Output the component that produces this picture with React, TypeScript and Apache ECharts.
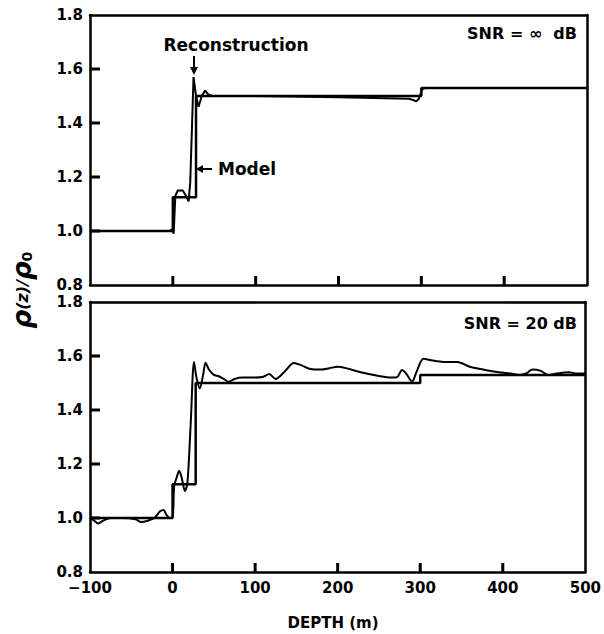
import React, { useEffect, useRef } from "react";
import * as echarts from "echarts";

// Model density profile (same in both panels)
const modelDepth = [-100, 0, 0, 28, 28, 300, 300, 500];
const modelRho = [1.0, 1.0, 1.125, 1.125, 1.5, 1.5, 1.53, 1.53];

// Reconstruction, SNR = infinity
const recInfDepth = [-100, -10, -4, -1, 1, 3, 6, 12, 16, 19, 21, 25, 28, 31, 35, 39, 43, 48, 100, 200, 285, 290, 294, 297, 301, 305, 500];
const recInfRho = [1.0, 1.0, 1.0, 1.006, 0.99, 1.13, 1.15, 1.15, 1.13, 1.11, 1.18, 1.57, 1.5, 1.46, 1.5, 1.52, 1.505, 1.5, 1.5, 1.495, 1.49, 1.485, 1.48, 1.49, 1.525, 1.53, 1.53];

// Reconstruction, SNR = 20 dB
const rec20Depth = [-100, -95, -90, -84, -75, -60, -45, -38, -30, -22, -15, -11, -7, -3, 0, 2, 5, 8, 11, 15, 18, 22, 26, 29, 33, 37, 40, 44, 50, 56, 62, 68, 75, 85, 100, 110, 117, 125, 135, 147, 155, 167, 180, 190, 200, 210, 228, 250, 265, 272, 278, 283, 290, 296, 304, 315, 328, 345, 360, 376, 395, 410, 420, 428, 436, 446, 455, 465, 480, 490, 500];
const rec20Rho = [1.0, 0.99, 0.98, 0.99, 1.0, 1.0, 0.995, 0.985, 0.99, 1.0, 1.025, 1.03, 1.01, 1.0, 1.0, 1.12, 1.15, 1.175, 1.15, 1.1, 1.13, 1.35, 1.578, 1.52, 1.48, 1.53, 1.575, 1.55, 1.53, 1.525, 1.515, 1.505, 1.515, 1.52, 1.52, 1.523, 1.533, 1.515, 1.54, 1.574, 1.567, 1.552, 1.55, 1.555, 1.56, 1.555, 1.54, 1.526, 1.52, 1.522, 1.548, 1.535, 1.505, 1.545, 1.59, 1.583, 1.578, 1.578, 1.56, 1.55, 1.54, 1.535, 1.53, 1.535, 1.55, 1.545, 1.53, 1.535, 1.54, 1.535, 1.535];

// Inner tick positions
const xTicks = [0, 100, 200, 300, 400];
const yTicks = [1.0, 1.2, 1.4, 1.6];

const X_MIN = -100, X_MAX = 500, X_STEP = 100;
const Y_MIN = 0.8, Y_MAX = 1.8, Y_STEP = 0.2;

const FONT = "DejaVu Sans";

const zip = (xs: number[], ys: number[]) => xs.map((x, i) => [x, ys[i]]);

export default function App() {
  const ref = useRef<HTMLDivElement>(null);
  useEffect(() => {
    document.body.style.margin = "0";
    const chart = echarts.init(ref.current!, null, { renderer: "svg" });
    const grids = [
      { left: 90, top: 15, width: 497, height: 270 },
      { left: 90, top: 302, width: 497, height: 270 },
    ];
    const line = () => ({ show: true, onZero: false, lineStyle: { color: "#000", width: 2.5 } });
    const labelStyle = { color: "#000", fontSize: 15, fontWeight: "bold", fontFamily: FONT };
    const xMain = grids.map((_, i) => ({
      gridIndex: i,
      type: "value",
      min: X_MIN,
      max: X_MAX,
      interval: X_STEP,
      axisLine: line(),
      axisTick: { show: false },
      splitLine: { show: false },
      axisLabel: {
        show: i === 1,
        margin: 8,
        ...labelStyle,
        formatter: (v: number) => (v < 0 ? "\u2212" + Math.abs(v) : String(v)),
      },
    }));
    const xFrame = grids.map((_, i) => ({
      gridIndex: i,
      type: "value",
      position: "top",
      min: X_MIN,
      max: X_MAX,
      axisLine: line(),
      axisTick: { show: false },
      axisLabel: { show: false },
      splitLine: { show: false },
    }));
    const yMain = grids.map((_, i) => ({
      gridIndex: i,
      type: "value",
      min: Y_MIN,
      max: Y_MAX,
      interval: Y_STEP,
      axisLine: line(),
      axisTick: { show: false },
      splitLine: { show: false },
      axisLabel: {
        margin: 7,
        ...labelStyle,
        formatter: (v: number) => v.toFixed(1),
      },
    }));
    const yFrame = grids.map((_, i) => ({
      gridIndex: i,
      type: "value",
      position: "right",
      min: Y_MIN,
      max: Y_MAX,
      axisLine: line(),
      axisTick: { show: false },
      axisLabel: { show: false },
      splitLine: { show: false },
    }));
    const lineSeries = (idx: number, xs: number[], ys: number[], w: number, smooth = false) => ({
      type: "line",
      xAxisIndex: idx,
      yAxisIndex: idx,
      data: zip(xs, ys),
      showSymbol: false,
      smooth: smooth ? 0.3 : false,
      lineStyle: { color: "#000", width: w },
      z: 3,
    });
    const tickSeries = (idx: number) => [
      {
        type: "scatter",
        xAxisIndex: idx,
        yAxisIndex: idx,
        data: yTicks.map((v) => [X_MIN, v]),
        symbol: "rect",
        symbolSize: [10, 3],
        symbolOffset: [5, 0],
        itemStyle: { color: "#000", opacity: 1 },
        silent: true,
        clip: false,
        z: 5,
      },
      {
        type: "scatter",
        xAxisIndex: idx,
        yAxisIndex: idx,
        data: xTicks.map((v) => [v, Y_MIN]),
        symbol: "rect",
        symbolSize: [3, 9],
        symbolOffset: [0, -4.5],
        itemStyle: { color: "#000", opacity: 1 },
        silent: true,
        clip: false,
        z: 5,
      },
    ];
    const boldText = (text: string, x: number, y: number, size: number, align = "center") => ({
      type: "text",
      x,
      y,
      style: {
        text,
        fill: "#000",
        font: `bold ${size}px "${FONT}"`,
        align,
        verticalAlign: "middle",
      },
    });
    chart.setOption({
      animation: false,
      grid: grids,
      xAxis: [...xMain, ...xFrame],
      yAxis: [...yMain, ...yFrame],
      series: [
        lineSeries(0, modelDepth, modelRho, 2.5),
        lineSeries(0, recInfDepth, recInfRho, 2),
        lineSeries(1, modelDepth, modelRho, 2.5),
        lineSeries(1, rec20Depth, rec20Rho, 2, true),
        ...tickSeries(0),
        ...tickSeries(1),
      ],
      graphic: [
        boldText("Reconstruction", 236, 45, 17),
        { type: "line", shape: { x1: 194, y1: 56, x2: 194, y2: 68 }, style: { stroke: "#000", lineWidth: 2 } },
        { type: "polygon", shape: { points: [[190, 67], [198, 67], [194, 75]] }, style: { fill: "#000" } },
        boldText("Model", 218, 169, 17, "left"),
        { type: "line", shape: { x1: 202, y1: 169, x2: 212, y2: 169 }, style: { stroke: "#000", lineWidth: 2 } },
        { type: "polygon", shape: { points: [[203, 165], [203, 173], [196, 169]] }, style: { fill: "#000" } },
        boldText("SNR = \u221e  dB", 577, 33, 16, "right"),
        boldText("SNR = 20 dB", 577, 323, 16, "right"),
        boldText("DEPTH (m)", 333, 623, 15),
        {
          type: "text",
          x: 22,
          y: 290,
          rotation: Math.PI / 2,
          style: {
            text: "{r|\u03c1}{s|(z)/}{r|\u03c1}{sub|0}",
            align: "center",
            verticalAlign: "middle",
            fill: "#000",
            rich: {
              r: { font: `italic bold 26px "${FONT}"`, fill: "#000" },
              s: { font: `italic bold 16px "${FONT}"`, fill: "#000" },
              sub: { font: `bold 14px "${FONT}"`, fill: "#000", padding: [10, 0, 0, 0] },
            },
          },
        },
      ],
    });
    return () => chart.dispose();
  }, []);
  return <div ref={ref} style={{ width: 604, height: 634 }} />;
}
